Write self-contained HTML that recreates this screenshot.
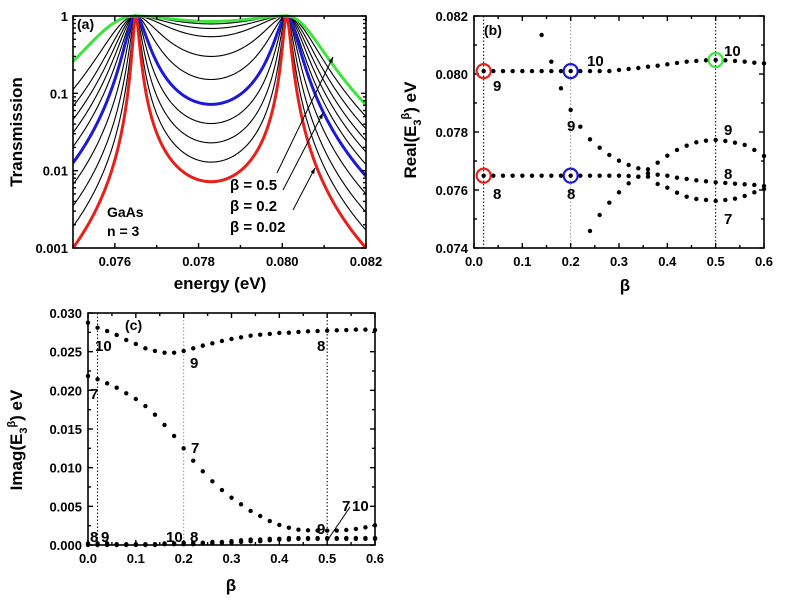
<!DOCTYPE html>
<html><head><meta charset="utf-8"><style>
html,body{margin:0;padding:0;background:#fff}
svg{display:block}
text{font-family:"Liberation Sans",Arial,sans-serif;font-weight:bold;fill:#000}
</style></head><body>
<svg id="fig" width="788" height="603" viewBox="0 0 788 603" xmlns="http://www.w3.org/2000/svg"></svg>
<script>
// ---------- Panel (a) data ----------
const aCurveMin   = [0.0072,0.0129,0.0229,0.0407,0.072,0.151,0.30,0.54,0.69,0.79,0.85];
const aCurveLeft  = [0.001,0.0019,0.0035,0.0066,0.0126,0.0204,0.031,0.0457,0.0676,0.112,0.257];
const aCurveRight = [0.001,0.0017,0.0029,0.005,0.0085,0.012,0.0174,0.0245,0.0347,0.05,0.0708];
const aPeaks = [0.0765,0.0801];
const aXTicks = [0.076,0.078,0.080,0.082];
const aXTickLabels = ["0.076","0.078","0.080","0.082"];
const aYTicks = [0.001,0.01,0.1,1];
const aYTickLabels = ["0.001","0.01","0.1","1"];
// ---------- Panel (b) data ----------
const bTopBeta = [0.02,0.04,0.06,0.08,0.10,0.12,0.14,0.16,0.18,0.20,0.22,0.24,0.26,0.28,0.30,0.32,0.34,0.36,0.38,0.40,0.42,0.44,0.46,0.48,0.50,0.52,0.54,0.56,0.58,0.60];
const bTopVal = [0.0801,0.0801,0.0801,0.0801,0.0801,0.0801,0.0801,0.0801,0.0801,0.0801,0.0801,0.0801,0.0801,0.0801,0.080138,0.080173,0.080207,0.080253,0.080288,0.080334,0.08038,0.080426,0.080449,0.080472,0.080483,0.080472,0.080449,0.080426,0.080391,0.080368];
const b9Beta = [0.14,0.16,0.18,0.20,0.22,0.24,0.26,0.28,0.30,0.32,0.34,0.36,0.38,0.40,0.42,0.44,0.46,0.48,0.50,0.52,0.54,0.56,0.58,0.60];
const b9Val = [0.081345,0.080426,0.079506,0.078759,0.078184,0.077748,0.07746,0.077207,0.077012,0.076862,0.076748,0.076713,0.076943,0.077184,0.07738,0.077529,0.077644,0.077702,0.077725,0.07769,0.077632,0.077552,0.07738,0.077173];
const b7Beta = [0.24,0.26,0.28,0.30,0.32,0.34,0.36,0.38,0.40,0.42,0.44,0.46,0.48,0.50,0.52,0.54,0.56,0.58,0.60];
const b7Val = [0.074587,0.075138,0.075564,0.07592,0.07623,0.07646,0.076575,0.076207,0.076081,0.075909,0.075771,0.07569,0.075656,0.075621,0.075656,0.075702,0.075794,0.07592,0.076035];
const b8Beta = bTopBeta;
const b8Val = [0.076495,0.076495,0.076495,0.076495,0.076495,0.076495,0.076495,0.076495,0.076495,0.076495,0.076495,0.076495,0.076495,0.076495,0.076495,0.076483,0.07646,0.07646,0.076529,0.076495,0.076426,0.07638,0.076334,0.076299,0.076265,0.076242,0.076219,0.076196,0.076173,0.076138];
const bXTicks = [0,0.1,0.2,0.3,0.4,0.5,0.6];
const bXTickLabels = ["0.0","0.1","0.2","0.3","0.4","0.5","0.6"];
const bYTicks = [0.074,0.076,0.078,0.080,0.082];
const bYTickLabels = ["0.074","0.076","0.078","0.080","0.082"];
const bCircleBeta = [0.02,0.02,0.2,0.2,0.5];
const bCircleVal = [0.0801,0.076495,0.0801,0.076495,0.080483];
const bCircleColor = ["#e8201a","#e8201a","#1a1ad8","#1a1ad8","#3ce43c"];
// ---------- Panel (c) data ----------
const cBeta = [0,0.02,0.04,0.06,0.08,0.10,0.12,0.14,0.16,0.18,0.20,0.22,0.24,0.26,0.28,0.30,0.32,0.34,0.36,0.38,0.40,0.42,0.44,0.46,0.48,0.50,0.52,0.54,0.56,0.58,0.60];
const cUpper = [0.02875,0.0281,0.02767,0.02716,0.02651,0.026,0.02543,0.02509,0.02487,0.02487,0.02509,0.02543,0.02578,0.02608,0.02638,0.02664,0.02686,0.02707,0.0272,0.02729,0.02742,0.02746,0.02755,0.02763,0.02767,0.02772,0.02776,0.0278,0.02785,0.02785,0.0278];
const cMiddle = [0.02185,0.02143,0.0209,0.02034,0.01961,0.01888,0.01797,0.01685,0.01552,0.0141,0.0125,0.0109,0.00953,0.00823,0.00711,0.00612,0.00526,0.0044,0.00375,0.0031,0.00259,0.00224,0.00198,0.0019,0.00186,0.00186,0.00186,0.00194,0.00207,0.00228,0.00254];
const cLowA = [0.0002,0.0002,0.0002,0.0001,0.0001,0.0001,0.0001,0.0001,0.0002,0.0002,0.0003,0.0003,0.0003,0.0004,0.0004,0.0005,0.0006,0.0007,0.0007,0.0008,0.0008,0.0009,0.0009,0.0009,0.0009,0.0009,0.0009,0.0009,0.0009,0.0009,0.0009];
const cLowB = [0,0,0,0,0,0,0,0,0.0001,0.0001,0.0001,0.0001,0.0002,0.0002,0.0003,0.0003,0.0004,0.0005,0.0005,0.0006,0.0007,0.0007,0.0008,0.0008,0.0008,0.0008,0.0008,0.0008,0.0008,0.0008,0.0008];
const cYTicks = [0,0.005,0.010,0.015,0.020,0.025,0.030];
const cYTickLabels = ["0.000","0.005","0.010","0.015","0.020","0.025","0.030"];

const NS="http://www.w3.org/2000/svg";
const svg=document.getElementById('fig');
function mk(tag,attrs,parent){const e=document.createElementNS(NS,tag);for(const k in attrs)e.setAttribute(k,attrs[k]);(parent||svg).appendChild(e);return e;}
function txt(s,x,y,size,anchor,parent){const t=mk('text',{x:x,y:y,'font-size':size,'text-anchor':anchor||'middle'},parent);t.textContent=s;return t;}

// scales
const A={x0:73,x1:366,y0:248,y1:16,dmin:0.075,dmax:0.082};
const ax=v=>A.x0+(v-A.dmin)/(A.dmax-A.dmin)*(A.x1-A.x0);
const ay=v=>A.y0-(Math.log10(v)+3)/3*(A.y0-A.y1);
const B={x0:474,x1:764,y0:248,y1:16};
const bx=v=>B.x0+v/0.6*(B.x1-B.x0);
const by=v=>B.y0-(v-0.074)/0.008*(B.y0-B.y1);
const C={x0:88,x1:375,y0:545,y1:313};
const cx=v=>C.x0+v/0.6*(C.x1-C.x0);
const cy=v=>C.y0-v/0.03*(C.y0-C.y1);

function frame(P,name){const g=mk('g',{});


mk('rect',{x:P.x0,y:P.y1,width:P.x1-P.x0,height:P.y0-P.y1,fill:'none',stroke:'#000','stroke-width':1.6},g);return g;}
function xtick(P,X,len,g){mk('line',{x1:X,x2:X,y1:P.y0,y2:P.y0-len,stroke:'#000','stroke-width':1.4},g);mk('line',{x1:X,x2:X,y1:P.y1,y2:P.y1+len,stroke:'#000','stroke-width':1.4},g);}
function ytick(P,Y,len,g){mk('line',{x1:P.x0,x2:P.x0+len,y1:Y,y2:Y,stroke:'#000','stroke-width':1.4},g);mk('line',{x1:P.x1,x2:P.x1-len,y1:Y,y2:Y,stroke:'#000','stroke-width':1.4},g);}

// ================= Panel (a) =================
const ga=mk('g',{});


function Tmodel(x,i){
  const p1=aPeaks[0],p2=aPeaks[1],pr=v=>(v-p1)*(v-p2);
  let K,s;
  if(x<p1){K=1/aCurveLeft[i]-1;s=Math.pow(pr(x)/pr(A.dmin),2);}
  else if(x>p2){K=1/aCurveRight[i]-1;s=Math.pow(pr(x)/pr(A.dmax),2);}
  else{K=1/aCurveMin[i]-1;s=Math.pow(pr(x)/pr((p1+p2)/2),2);}
  return 1/(1+K*s);
}
const cl=mk('clipPath',{id:'clipA'});mk('rect',{x:A.x0,y:A.y1-2,width:A.x1-A.x0,height:A.y0-A.y1+2},cl);
const order=[1,2,3,5,6,7,8,9,4,0,10];
order.forEach(i=>{
  let d='';
  for(let k=0;k<=700;k++){const x=A.dmin+(A.dmax-A.dmin)*k/700;d+=(k?'L':'M')+ax(x).toFixed(2)+','+ay(Tmodel(x,i)).toFixed(2);}
  const col=i===0?'#e8201a':i===4?'#1a1ad8':i===10?'#3ce43c':'#000';
  const w=(i===0||i===4||i===10)?3:1.1;
  const p=mk('path',{d:d,fill:'none',stroke:col,'stroke-width':w,'clip-path':'url(#clipA)'},ga);
  
  
});
const fa=frame(A,'panel-a-axes');
aXTicks.forEach((v,i)=>{xtick(A,ax(v),5,fa);txt(aXTickLabels[i],ax(v),A.y0+18,13,'middle',fa);});
[0.075,0.077,0.079,0.081].forEach(v=>xtick(A,ax(v),3,fa));
aYTicks.forEach((v,i)=>{ytick(A,ay(v),5,fa);txt(aYTickLabels[i],A.x0-5,ay(v)+5,13,'end',fa);});
[0.001,0.01,0.1].forEach(dec=>{for(let m=2;m<=9;m++)ytick(A,ay(dec*m),3,fa);});
let t;
t=txt('energy (eV)',220,289,17);


t=txt('Transmission',0,0,17);t.setAttribute('transform','translate(22,132) rotate(-90)');


t=txt('(a)',77,29,14,'start');


t=txt('GaAs',107,217,14,'start');


t=txt('n = 3',107,236,14,'start');


['β = 0.5','β = 0.2','β = 0.02'].forEach((s,i)=>{const e=txt(s,230,190+i*21,15,'start');

});
[[277,173,333,57],[283,190,323,113],[293,210,315,168]].forEach(a=>{
  const l=mk('line',{x1:a[0],y1:a[1],x2:a[2],y2:a[3],stroke:'#000','stroke-width':1});
  
  
  const ang=Math.atan2(a[3]-a[1],a[2]-a[0]),L=6;
  mk('path',{d:`M${a[2]},${a[3]}L${a[2]-L*Math.cos(ang-0.35)},${a[3]-L*Math.sin(ang-0.35)}L${a[2]-L*Math.cos(ang+0.35)},${a[3]-L*Math.sin(ang+0.35)}Z`,fill:'#000'});
});

// ================= Panel (b) =================
const fb=frame(B,'panel-b-axes');
[[0.02,'#000'],[0.2,'#999'],[0.5,'#000']].forEach(v=>{const l=mk('line',{x1:bx(v[0]),x2:bx(v[0]),y1:B.y1,y2:B.y0,stroke:v[1],'stroke-width':1,'stroke-dasharray':'1.5,2'},fb);

});
bXTicks.forEach((v,i)=>{xtick(B,bx(v),5,fb);txt(bXTickLabels[i],bx(v),B.y0+18,13,'middle',fb);});
[0.05,0.15,0.25,0.35,0.45,0.55].forEach(v=>xtick(B,bx(v),3,fb));
bYTicks.forEach((v,i)=>{ytick(B,by(v),5,fb);txt(bYTickLabels[i],B.x0-6,by(v)+5,13,'end',fb);});
[0.075,0.077,0.079,0.081].forEach(v=>ytick(B,by(v),3,fb));
function dots(xs,ys,sx,sy,name,g){xs.forEach((x,i)=>{const c=mk('circle',{cx:sx(x),cy:sy(ys[i]),r:2.2,fill:'#000'},g);

});}
dots(bTopBeta,bTopVal,bx,by,'point-top-branch');
dots(b9Beta,b9Val,bx,by,'point-branch-9');
dots(b7Beta,b7Val,bx,by,'point-branch-7');
dots(b8Beta,b8Val,bx,by,'point-branch-8');
bCircleBeta.forEach((v,i)=>{const c=mk('circle',{cx:bx(v),cy:by(bCircleVal[i]),r:7,fill:'none',stroke:bCircleColor[i],'stroke-width':2.2});

});
[['(b)',484,35,14],['9',493,91,15],['10',587,66,15],['9',567,131,15],['8',493,199,15],['8',567,199,15],['10',724,56,15],['9',724,135,15],['8',724,179,15],['7',724,224,15]].forEach(a=>{const e=txt(a[0],a[1],a[2],a[3],'start');

});
t=txt('β',625,291,17);


const yb=mk('text',{'font-size':17,'text-anchor':'middle',transform:'translate(416,130) rotate(-90)'});
yb.innerHTML='Real(E<tspan font-size="11" dy="5">3</tspan><tspan font-size="11" dy="-12">β</tspan><tspan dy="7">) eV</tspan>';



// ================= Panel (c) =================
const fc=frame(C,'panel-c-axes');
[[0.02,'#000'],[0.2,'#999'],[0.5,'#000']].forEach(v=>{const l=mk('line',{x1:cx(v[0]),x2:cx(v[0]),y1:C.y1,y2:C.y0,stroke:v[1],'stroke-width':1,'stroke-dasharray':'1.5,2'},fc);

});
bXTicks.forEach((v,i)=>{xtick(C,cx(v),5,fc);txt(bXTickLabels[i],cx(v),C.y0+18,13,'middle',fc);});
[0.05,0.15,0.25,0.35,0.45,0.55].forEach(v=>xtick(C,cx(v),3,fc));
cYTicks.forEach((v,i)=>{ytick(C,cy(v),5,fc);txt(cYTickLabels[i],C.x0-6,cy(v)+5,13,'end',fc);});
[0.0025,0.0075,0.0125,0.0175,0.0225,0.0275].forEach(v=>ytick(C,cy(v),3,fc));
dots(cBeta,cUpper,cx,cy,'point-imag-upper');
dots(cBeta,cMiddle,cx,cy,'point-imag-middle');
dots(cBeta,cLowA,cx,cy,'point-imag-low-a');
dots(cBeta,cLowB,cx,cy,'point-imag-low-b');
[['(c)',125,330,14],['10',95,351,15],['9',190,368,15],['7',90,399,15],['7',191,453,15],['8',317,351,15],['8',90,542,15],['9',101,542,15],['10',166,542,15],['8',190,542,15],['9',317,534,15],['7',342,511,15],['10',352,511,15]].forEach(a=>{const e=txt(a[0],a[1],a[2],a[3],'start');

});
const ll=mk('line',{x1:350,y1:507,x2:329,y2:538,stroke:'#000','stroke-width':1});


t=txt('β',231,591,17);


const yc=mk('text',{'font-size':17,'text-anchor':'middle',transform:'translate(22,440) rotate(-90)'});
yc.innerHTML='Imag(E<tspan font-size="11" dy="5">3</tspan><tspan font-size="11" dy="-12">β</tspan><tspan dy="7">) eV</tspan>';


</script>
</body></html>
